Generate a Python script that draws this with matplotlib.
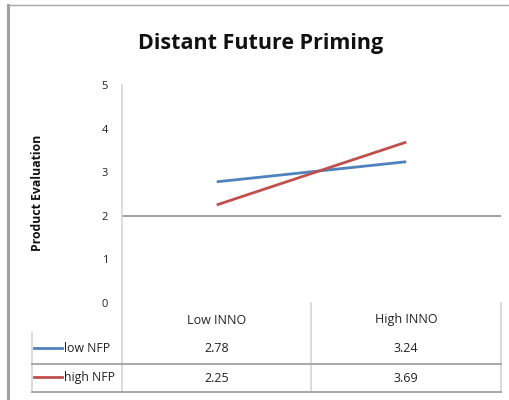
import matplotlib.pyplot as plt
from matplotlib.lines import Line2D
import matplotlib.transforms as mtransforms

plt.rcParams['font.family'] = ['Open Sans', 'DejaVu Sans']

categories = ['Low INNO', 'High INNO']
series_names = ['low NFP', 'high NFP']
low_nfp = [2.78, 3.24]
high_nfp = [2.25, 3.69]
series_values = [low_nfp, high_nfp]
series_colors = ['#4f81bd', '#c0504d']
y_ticks = [0, 1, 2, 3, 4, 5]

W, H = 510, 400
fig = plt.figure(figsize=(W / 100, H / 100), dpi=100)


def fx(x):
    return x / W


def fy(y):
    return 1 - y / H


# plot area in pixel layout
left, right, top, bottom = 122, 501, 85, 303
ax = fig.add_axes([fx(left), fy(bottom), fx(right) - fx(left), fy(top) - fy(bottom)])
ax.set_xlim(0, len(categories))
ax.set_ylim(0, 5)
for s in ax.spines.values():
    s.set_visible(False)
ax.set_xticks([])
ax.set_yticks(y_ticks)
ax.tick_params(axis='y', length=0, pad=10, labelsize=8, labelcolor='#222222')
ax.patch.set_alpha(0)

# category axis crosses at 2
ax.axhline(2, color='#9a9a9a', lw=1.3, zorder=1)

xs = [i + 0.5 for i in range(len(categories))]
for vals, col in zip(series_values, series_colors):
    ax.plot(xs, vals, color=col, lw=2, solid_capstyle='butt', zorder=3)

# data table below the plot
blend = mtransforms.blended_transform_factory(ax.transData, fig.transFigure)
light = '#d4d4d4'
dark = '#9a9a9a'
row_y = [349, 378]
sep_y = [364, 392]

fig.add_artist(Line2D([fx(left)] * 2, [fy(top), fy(392)], color=light, lw=1.2))
for xb in range(1, len(categories) + 1):
    fig.add_artist(Line2D([xb, xb], [fy(bottom), fy(392)], color=light, lw=1.2,
                          transform=blend))
fig.add_artist(Line2D([fx(32)] * 2, [fy(333), fy(392)], color=light, lw=1.2))
for y in sep_y:
    fig.add_artist(Line2D([fx(32), fx(right)], [fy(y)] * 2, color=dark, lw=1.2))

for x, cat in zip(xs, categories):
    fig.text(x, fy(320), cat, transform=blend, ha='center', va='center',
             fontsize=9, color='#222222')

for y, name, vals, col in zip(row_y, series_names, series_values, series_colors):
    fig.add_artist(Line2D([fx(34), fx(62)], [fy(y - 1)] * 2, color=col, lw=2))
    fig.text(fx(64), fy(y), name, ha='left', va='center', fontsize=8.8,
             color='#222222')
    for x, v in zip(xs, vals):
        fig.text(x, fy(y), f'{v:.2f}', transform=blend, ha='center',
                 va='center', fontsize=9, color='#222222')

fig.text(fx(261), fy(43), 'Distant Future Priming', ha='center', va='center',
         fontsize=15.5, fontweight='bold', color='#111111')
fig.text(fx(38), fy(193), 'Product Evaluation', ha='center', va='center',
         rotation=90, fontsize=8.8, fontweight='bold', color='#111111')

# chart area border
fig.add_artist(Line2D([fx(8), fx(8)], [fy(5), 0], color='#a0a0a0', lw=2.2))
fig.add_artist(Line2D([fx(8), 1], [fy(5), fy(5)], color='#a8a8a8', lw=1))

fig.savefig('out.png', dpi=100)
